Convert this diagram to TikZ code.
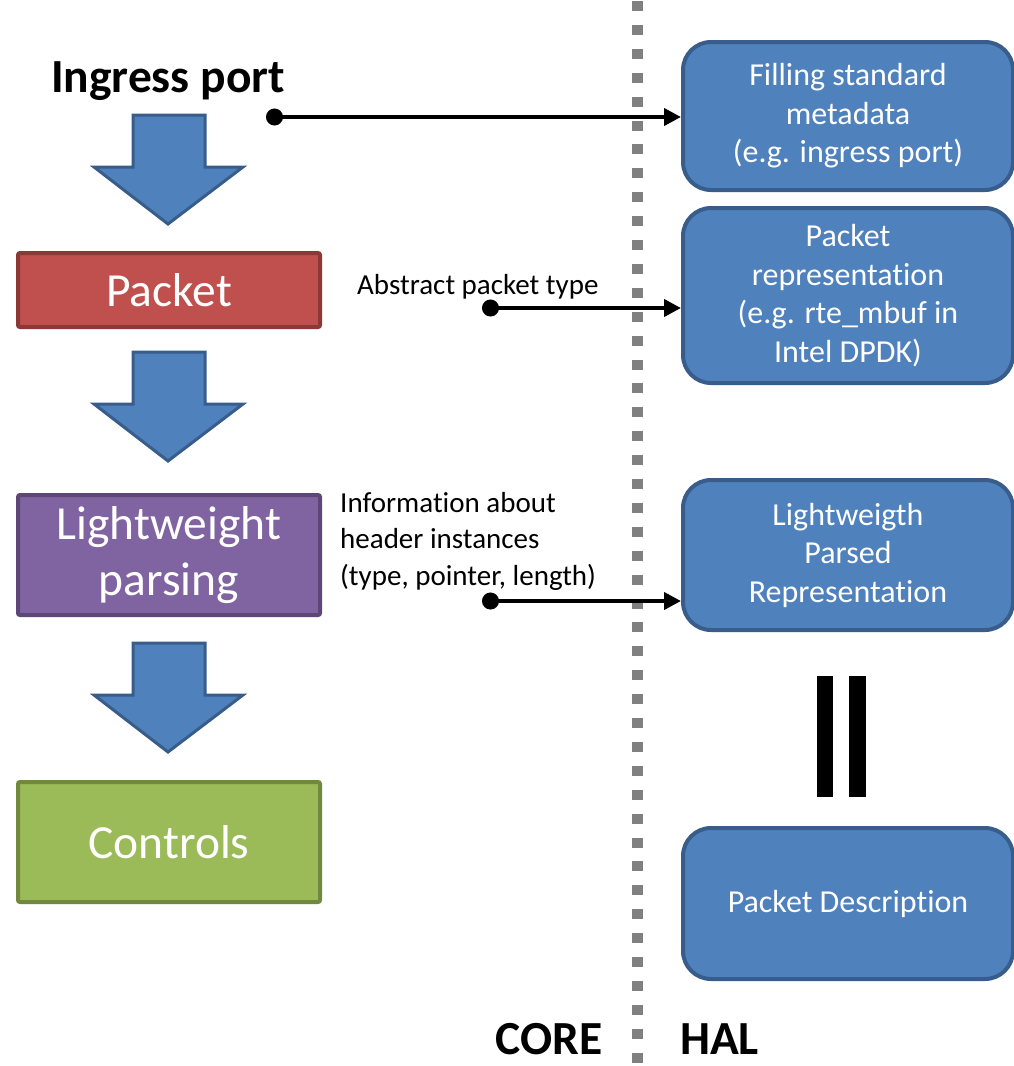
\documentclass[tikz,border=0pt]{standalone}
\usepackage{fontspec}
\setmainfont{Carlito}[Ligatures=CommonOff]
\usetikzlibrary{arrows.meta}
\definecolor{blueF}{HTML}{4F81BD}
\definecolor{blueD}{HTML}{385D8A}
\definecolor{redF}{HTML}{C0504D}
\definecolor{redD}{HTML}{8C3836}
\definecolor{purF}{HTML}{8064A2}
\definecolor{purD}{HTML}{5C4776}
\definecolor{grnF}{HTML}{9BBB59}
\definecolor{grnD}{HTML}{71893F}
\definecolor{sepgray}{HTML}{808080}
\begin{document}
\begin{tikzpicture}[x=1pt,y=-1pt,
 leftbox/.style={draw, line width=4pt, rounded corners=2pt, minimum width=302pt, inner sep=0pt, text=white, font=\fontsize{47.5}{56}\selectfont, align=center},
 halbox/.style={draw=blueD, fill=blueF, line width=4pt, rounded corners=28pt, minimum width=330pt, inner sep=0pt, text=white, font=\fontsize{32}{38.5}\selectfont, align=center},
 blockarrow/.style={draw=blueD, fill=blueF, line width=3pt, line join=miter},
 conn/.style={line width=4pt, {Circle[length=17pt]}-{Triangle[length=17pt,width=17pt]}},
 lbl/.style={font=\fontsize{29}{36.5}\selectfont, inner sep=0pt, align=left},
 bigbold/.style={font=\bfseries\fontsize{47.5}{56}\selectfont, inner sep=0pt}]
\useasboundingbox (0,0) rectangle (1013,1066);
\draw[sepgray, line width=11.7pt, dash pattern=on 10pt off 13.9pt] (637.5,1) -- (637.5,1070);

\node[bigbold, anchor=base] (ingress) at (168,92) {Ingress port};
\node[leftbox, fill=redF, draw=redD, minimum height=74pt] (packet) at (169,290) {Packet};
\node[leftbox, fill=purF, draw=purD, minimum height=120pt] (lw) at (169,555) {Lightweight\\parsing};
\node[leftbox, fill=grnF, draw=grnD, minimum height=120pt] (ctrl) at (169,842) {Controls};

\foreach \t in {115,352,643} {
  \draw[blockarrow] (133,\t) -- (205,\t) -- (205,\t+52) -- (243,\t+52) -- (168,\t+109) -- (94,\t+52) -- (133,\t+52) -- cycle;
}

\node[halbox, minimum height=148pt] (meta) at (848,116) {Filling standard\\metadata\\(e.g. ingress port)};
\node[halbox, minimum height=175pt] (rep) at (848,295.5) {Packet\\representation\\(e.g. rte\_mbuf in\\Intel DPDK)};
\node[halbox, minimum height=150pt] (lpr) at (848,555) {Lightweigth\\Parsed\\Representation};
\node[halbox, minimum height=151pt] (desc) at (848,903.5) {Packet Description};

\fill (817,676) rectangle (833,797);
\fill (849,676) rectangle (866,797);

\node[lbl, anchor=west] (abs) at (357,287) {Abstract packet type};
\node[lbl, anchor=west] (info) at (340,541) {Information about\\header instances\\(type, pointer, length)};

\node[bigbold, anchor=base east] (core) at (603,1054) {CORE};
\node[bigbold, anchor=base west] (hal) at (680,1054) {HAL};

\coordinate (d1) at (266,117);
\draw[conn] (d1) -- (d1 -| meta.west);
\coordinate (d2) at (482,308);
\draw[conn] (d2) -- (d2 -| rep.west);
\coordinate (d3) at (482,601);
\draw[conn] (d3) -- (d3 -| lpr.west);
\end{tikzpicture}
\end{document}
